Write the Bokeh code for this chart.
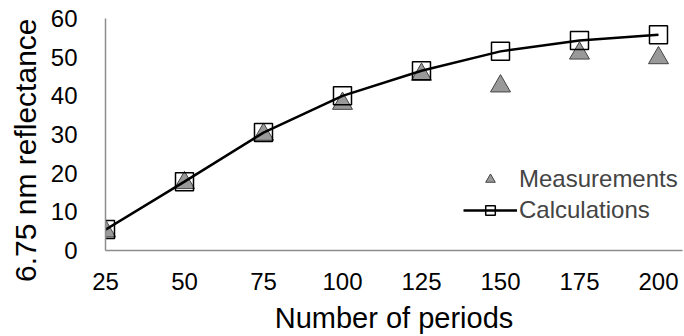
from bokeh.plotting import figure
from bokeh.models import FixedTicker, Range1d, Legend, LegendItem, Title
from bokeh.embed import file_html
from bokeh.resources import INLINE

periods = [25, 50, 75, 100, 125, 150, 175, 200]
calculations = [5.4, 17.8, 30.5, 40.0, 46.5, 51.5, 54.3, 55.8]
measurements = [5.0, 17.5, 30.0, 38.0, 45.5, 42.5, 51.0, 49.8]
x_ticks = [25, 50, 75, 100, 125, 150, 175, 200]
y_ticks = [0, 10, 20, 30, 40, 50, 60]

FONT = "Liberation Sans"

p = figure(width=684, height=336, output_backend="svg", toolbar_location=None,
           x_range=Range1d(25, 207.6), y_range=Range1d(0, 60),
           min_border_left=103, min_border_right=2, min_border_top=18, min_border_bottom=86)
p.outline_line_color = None
p.grid.grid_line_color = None
p.background_fill_color = "white"
p.border_fill_color = "white"

for ax in (p.xaxis[0], p.yaxis[0]):
    ax.axis_line_color = "#8c8c8c"
    ax.axis_line_width = 1.5
    ax.major_tick_line_color = None
    ax.minor_tick_line_color = None
    ax.major_label_text_font = FONT
    ax.major_label_text_font_size = "24px"
    ax.major_label_text_color = "black"
    ax.axis_label_text_font = FONT
    ax.axis_label_text_font_style = "normal"
    ax.axis_label_text_color = "black"

p.xaxis.ticker = FixedTicker(ticks=x_ticks)
p.yaxis.ticker = FixedTicker(ticks=y_ticks)
p.xaxis.axis_label = "Number of periods"
p.xaxis.axis_label_text_font_size = "29px"
p.yaxis.major_label_standoff = 22
p.xaxis.major_label_standoff = 16
p.xaxis.axis_label_standoff = 9

ytitle = Title(text="6.75 nm reflectance", align="right", offset=0,
               text_font=FONT, text_font_size="30px", text_font_style="normal",
               text_color="black", standoff=12)
p.add_layout(ytitle, "left")

tri = p.scatter(periods, measurements, marker="triangle", size=20,
                fill_color="#999999", line_color="#444444", line_width=1)
ln = p.line(periods, calculations, line_color="black", line_width=2.5)
sq = p.scatter(periods, calculations, marker="square", size=18,
               fill_alpha=0, line_color="black", line_width=1.5)

legend = Legend(items=[LegendItem(label="Measurements", renderers=[tri]),
                       LegendItem(label="Calculations", renderers=[ln, sq])],
                location=(358, 26), glyph_width=54, glyph_height=24,
                label_height=24, spacing=3, padding=0, margin=0,
                label_standoff=2, background_fill_alpha=0,
                border_line_color=None,
                label_text_font=FONT, label_text_font_size="24px")
p.add_layout(legend, "center")

open("out.html", "w").write(file_html(p, INLINE))
